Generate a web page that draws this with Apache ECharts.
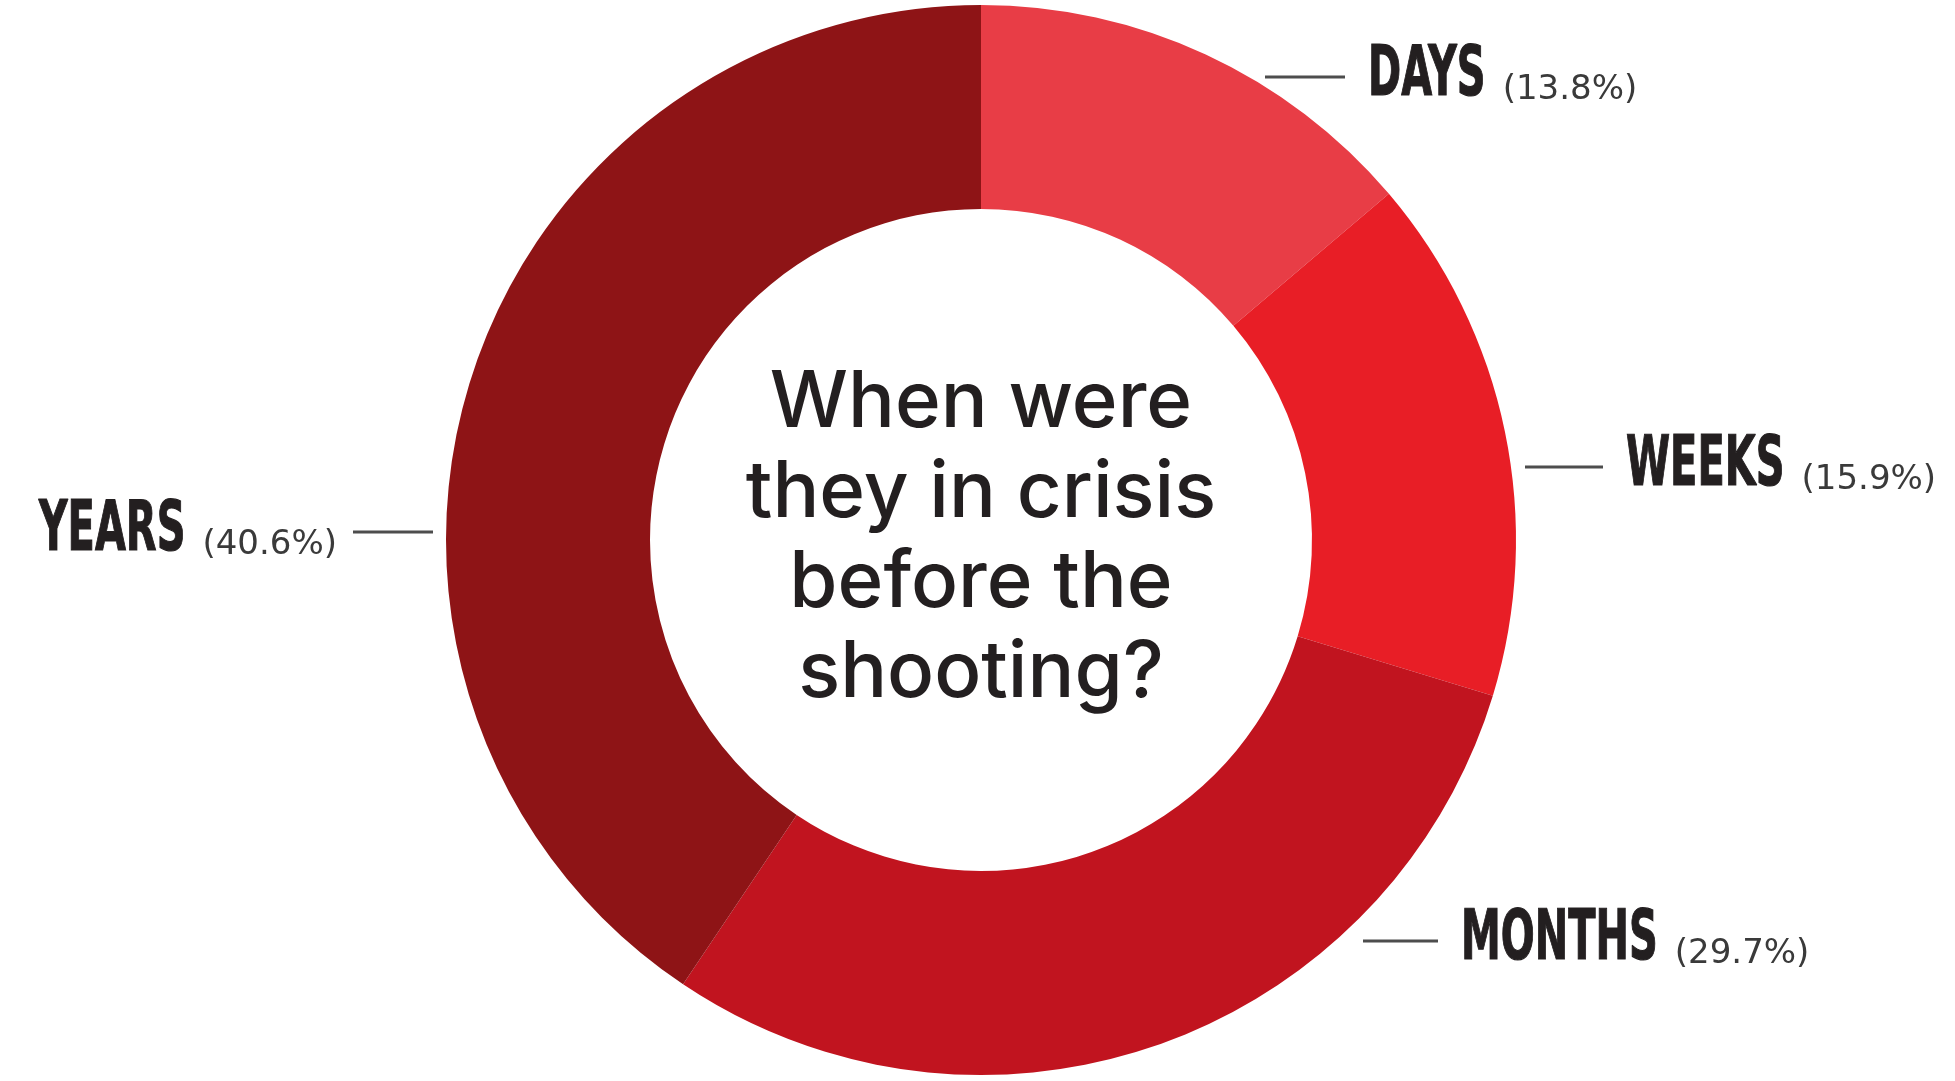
<!DOCTYPE html>
<html>
<head>
<meta charset="utf-8">
<script src="https://cdn.jsdelivr.net/npm/echarts@6/dist/echarts.min.js"></script>
<style>
  html, body { margin: 0; padding: 0; background: #ffffff; }
  #chart { width: 1955px; height: 1081px; }
</style>
</head>
<body>
<div id="chart"></div>
<script>
// Share of cases by how long before the shooting the person was in crisis
const categories = ['DAYS', 'WEEKS', 'MONTHS', 'YEARS'];
const shares = [13.8, 15.9, 29.7, 40.6];
const sliceColors = ['#E83D46', '#E81E26', '#C1141F', '#8E1416'];
const centerTitle = ['When were', 'they in crisis', 'before the', 'shooting?'];

// Leader line for each label: x where it starts (ring side), x where it ends
// (text side), its y, and on which side of the line the text sits.
const labelSpots = [
  { x0: 1265, x1: 1345, y: 77,  side: 'right' },
  { x0: 1525, x1: 1603, y: 467, side: 'right' },
  { x0: 1363, x1: 1438, y: 941, side: 'right' },
  { x0: 433,  x1: 353,  y: 532, side: 'left' }
];

// Label typography: a squeezed bold face for the names, a plain face for the shares
const NAME_FONT = { family: '"DejaVu Sans Condensed", "DejaVu Sans", sans-serif', weight: 'bold', size: 70, squeeze: 0.635, color: '#231f20' };
const PCT_FONT = { family: '"DejaVu Sans", sans-serif', weight: 'normal', size: 34, color: '#3a3a3a', drop: 13 };
const TEXT_GAP = 23;   // between leader line and text
const PART_GAP = 17;   // between name and share

const measureCtx = document.createElement('canvas').getContext('2d');
function textWidth(text, f) {
  measureCtx.font = f.weight + ' ' + f.size + 'px ' + f.family;
  return measureCtx.measureText(text).width;
}

function buildLabel(i) {
  const s = labelSpots[i];
  const name = categories[i];
  const pct = '(' + shares[i] + '%)';
  const nameW = textWidth(name, NAME_FONT) * NAME_FONT.squeeze;
  const pctW = textWidth(pct, PCT_FONT);
  let nameX, pctX;
  if (s.side === 'right') {
    nameX = s.x1 + TEXT_GAP;
    pctX = nameX + nameW + PART_GAP;
  } else {
    pctX = s.x1 - 16 - pctW;
    nameX = pctX - PART_GAP - nameW;
  }
  return {
    type: 'group',
    silent: true,
    children: [
      {
        type: 'line',
        shape: { x1: s.x0, y1: s.y, x2: s.x1, y2: s.y },
        style: { stroke: '#4d4d4d', lineWidth: 3 }
      },
      {
        type: 'text',
        x: nameX,
        y: s.y,
        scaleX: NAME_FONT.squeeze,
        originX: 0,
        style: {
          text: name,
          fontFamily: NAME_FONT.family,
          fontWeight: NAME_FONT.weight,
          fontSize: NAME_FONT.size,
          fill: NAME_FONT.color,
          stroke: NAME_FONT.color,
          lineWidth: 1.2,
          align: 'left',
          verticalAlign: 'middle'
        }
      },
      {
        type: 'text',
        x: pctX,
        y: s.y + PCT_FONT.drop,
        style: {
          text: pct,
          fontFamily: PCT_FONT.family,
          fontWeight: PCT_FONT.weight,
          fontSize: PCT_FONT.size,
          fill: PCT_FONT.color,
          align: 'left',
          verticalAlign: 'middle'
        }
      }
    ]
  };
}

const chart = echarts.init(document.getElementById('chart'), null, { renderer: 'canvas' });

chart.setOption({
  animation: false,
  backgroundColor: '#ffffff',
  graphic: [
    {
      type: 'text',
      x: 981,
      y: 539,
      silent: true,
      style: {
        text: centerTitle.join('\n'),
        fontFamily: 'Inter, "Noto Sans", sans-serif',
        fontWeight: 500,
        fontSize: 78,
        lineHeight: 90,
        fill: '#231f20',
        align: 'center',
        verticalAlign: 'middle'
      }
    }
  ].concat(categories.map((_, i) => buildLabel(i))),
  series: [{
    type: 'pie',
    center: [981, 540],
    radius: [331, 535],
    startAngle: 90,
    clockwise: true,
    avoidLabelOverlap: false,
    silent: true,
    label: { show: false },
    labelLine: { show: false },
    data: categories.map((name, i) => ({
      name: name,
      value: shares[i],
      itemStyle: { color: sliceColors[i] }
    }))
  }]
});
</script>
</body>
</html>
